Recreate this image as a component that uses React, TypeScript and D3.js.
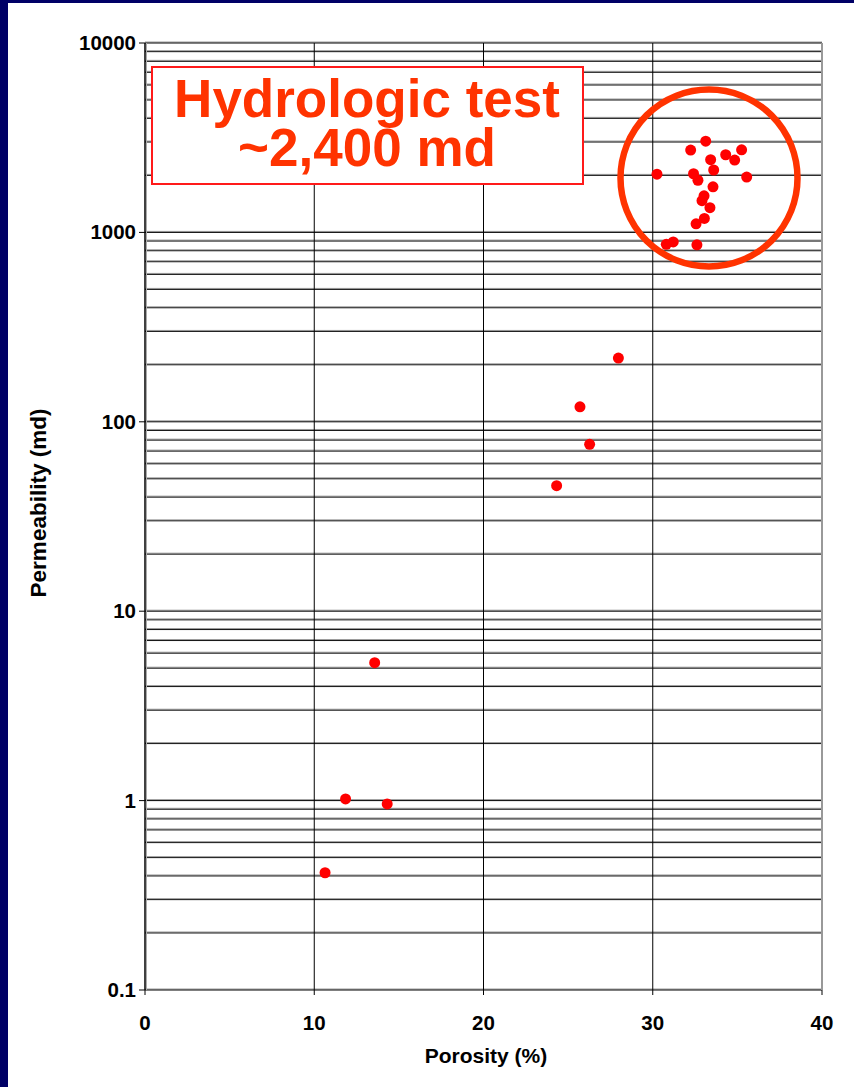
import React from "react";
import * as d3 from "d3";

const porosity = [
  30.25, 32.24, 33.13, 33.42, 34.31, 35.25, 34.84, 33.6, 32.41, 32.67,
  35.55, 33.56, 33.03, 32.91, 33.38, 33.05, 32.56, 31.21, 30.8, 32.61,
  27.97, 25.7, 26.27, 24.32,
  13.57, 11.85, 14.31, 10.64,
];
const permeability = [
  2030, 2720, 3030, 2420, 2570, 2730, 2410, 2135, 2040, 1885,
  1960, 1740, 1560, 1470, 1350, 1185, 1110, 890, 865, 860,
  217, 120, 76, 46,
  5.35, 1.02, 0.96, 0.416,
];
const xTicks = [0, 10, 20, 30, 40];
const yTicks = [0.1, 1, 10, 100, 1000, 10000];
const yTickLabels = ["0.1", "1", "10", "100", "1000", "10000"];
const boxLines = ["Hydrologic test", "~2,400 md"];
const xTitle = "Porosity (%)";
const yTitle = "Permeability (md)";

const W = 854;
const H = 1087;
const left = 145;
const right = 822;
const top = 43;
const bottom = 990;

export default function App() {
  const x = d3.scaleLinear().domain([0, 40]).range([left, right]);
  const y = d3.scaleLog().domain([0.1, 10000]).range([bottom, top]);

  const minor: number[] = [];
  for (let e = -1; e < 4; e++) {
    for (let m = 2; m <= 9; m++) minor.push(m * Math.pow(10, e));
  }
  const font = "Arial, 'Liberation Sans', Helvetica, sans-serif";
  const orange = "#ff3300";

  return (
    <svg
      width={W}
      height={H}
      style={{ position: "absolute", left: 0, top: 0, display: "block" }}
      fontFamily={font}
    >
      <rect x={0} y={0} width={W} height={H} fill="#000066" />
      <rect x={8} y={3} width={W - 8} height={H - 3} fill="#ffffff" />

      {/* minor horizontal gridlines */}
      {minor.map((v, i) => (
        <g key={"mn" + i}>
          <line x1={left} x2={right} y1={y(v) - 1} y2={y(v) - 1} stroke="#9a9a9a" strokeWidth={1} />
          <line x1={left} x2={right} y1={y(v)} y2={y(v)} stroke="#111" strokeWidth={1} />
        </g>
      ))}
      {/* major horizontal gridlines */}
      {yTicks.map((v, i) => (
        <g key={"mj" + i}>
          <line x1={left} x2={right} y1={y(v) - 1} y2={y(v) - 1} stroke="#9a9a9a" strokeWidth={1} />
          <line x1={left} x2={right} y1={y(v)} y2={y(v)} stroke="#000" strokeWidth={1} />
        </g>
      ))}
      {/* vertical gridlines */}
      {xTicks.slice(1, 4).map((v, i) => (
        <line key={"vg" + i} x1={x(v)} x2={x(v)} y1={top} y2={bottom} stroke="#000" strokeWidth={1} />
      ))}
      <line x1={right} x2={right} y1={top} y2={bottom} stroke="#999" strokeWidth={2} />
      <line x1={left} x2={left} y1={top} y2={bottom} stroke="#000" strokeWidth={1.5} />
      <line x1={left + 1.5} x2={left + 1.5} y1={top} y2={bottom} stroke="#aaa" strokeWidth={1} />

      {/* y ticks */}
      {yTicks.map((v, i) => (
        <g key={"yt" + i}>
          <line x1={left - 6} x2={left} y1={y(v)} y2={y(v)} stroke="#000" strokeWidth={1} />
          <text
            x={left - 9}
            y={y(v) + 7}
            textAnchor="end"
            fontSize={20.5}
            fontWeight="bold"
            fill="#000"
          >
            {yTickLabels[i]}
          </text>
        </g>
      ))}
      {/* x ticks */}
      {xTicks.map((v, i) => (
        <g key={"xt" + i}>
          <line x1={x(v)} x2={x(v)} y1={bottom} y2={bottom + 5} stroke="#000" strokeWidth={1} />
          <text x={x(v)} y={1030} textAnchor="middle" fontSize={20.5} fontWeight="bold" fill="#000">
            {v}
          </text>
        </g>
      ))}

      <text x={486} y={1063} textAnchor="middle" fontSize={21} fontWeight="bold" fill="#000">
        {xTitle}
      </text>
      <text
        transform={`translate(46, 503) rotate(-90)`}
        textAnchor="middle"
        fontSize={22.5}
        fontWeight="bold"
        fill="#000"
      >
        {yTitle}
      </text>

      {/* annotation box */}
      <rect x={152} y={67} width={431} height={117} fill="#ffffff" stroke="#ff1a1a" strokeWidth={2} />
      <text x={367} y={117} textAnchor="middle" fontSize={53} fontWeight="bold" fill={orange}>
        {boxLines[0]}
      </text>
      <text x={367} y={166} textAnchor="middle" fontSize={53} fontWeight="bold" fill={orange}>
        {boxLines[1]}
      </text>

      {/* points */}
      {porosity.map((p, i) => (
        <circle key={"pt" + i} cx={x(p)} cy={y(permeability[i])} r={5.5} fill="#ff0000" />
      ))}

      {/* highlight circle */}
      <circle cx={709} cy={178} r={88.5} fill="none" stroke={orange} strokeWidth={6.5} />
    </svg>
  );
}
